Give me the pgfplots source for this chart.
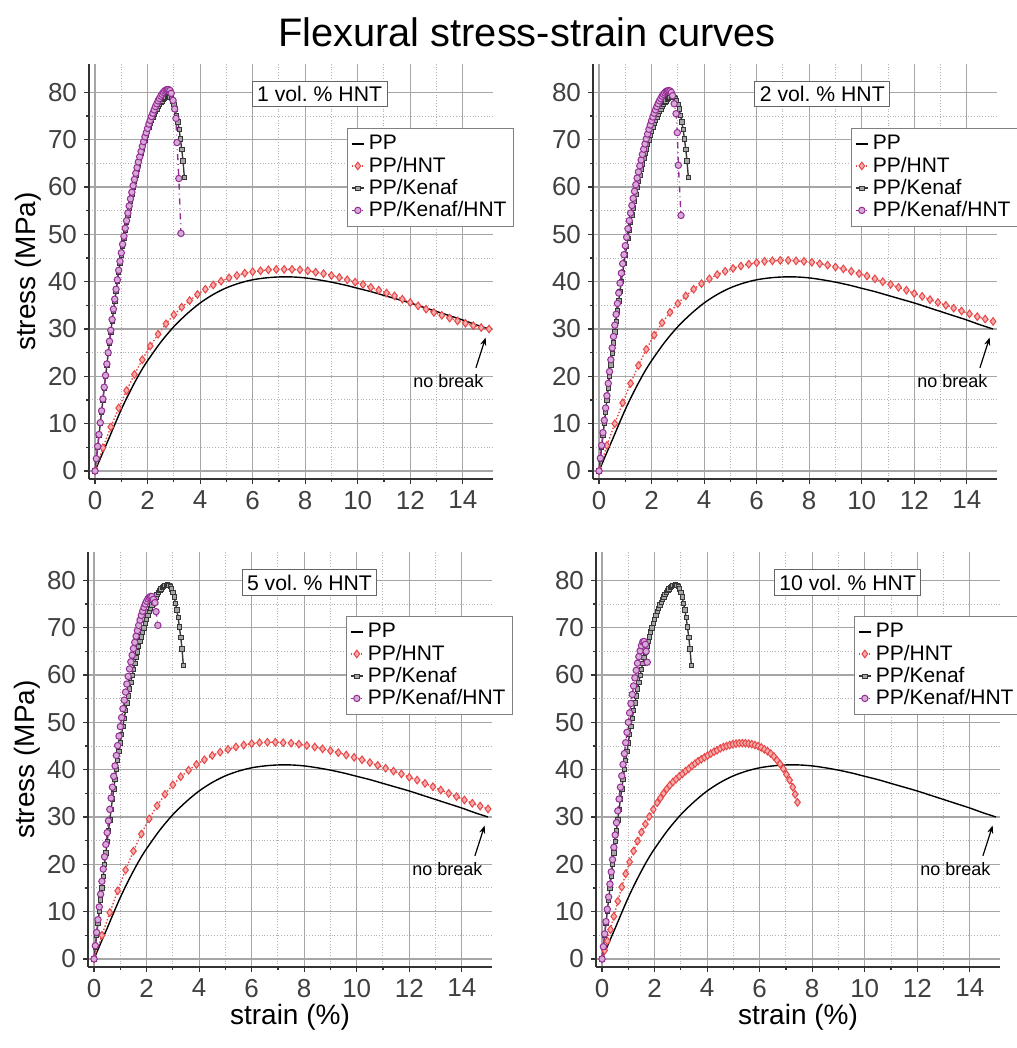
\documentclass[border=0pt]{standalone}
\usepackage{pgfplots}
\pgfplotsset{compat=1.18}
\usepackage{pgfplotstable}
\usepackage{fontspec}
\setmainfont{Liberation Sans}
\usetikzlibrary{arrows.meta}

\definecolor{hntred}{RGB}{232,70,70}
\definecolor{kgray}{RGB}{55,55,55}
\definecolor{kpurple}{RGB}{150,45,150}

% PP (same in every panel)
\pgfplotstableread{
x y
0 0
0.25 3.3
0.5 6.5
0.75 9.8
1 13.0
1.25 15.9
1.5 18.6
1.75 21.1
2 23.3
2.5 27.2
3 30.5
3.5 33.2
4 35.5
4.5 37.3
5 38.7
5.5 39.7
6 40.4
6.5 40.8
7 41.0
7.5 41.0
8 40.8
8.5 40.4
9 39.9
9.5 39.3
10 38.6
10.5 37.9
11 37.1
11.5 36.3
12 35.5
12.5 34.6
13 33.7
13.5 32.8
14 31.9
14.5 30.9
15 30.0
}\PPdata

% PP/Kenaf (same in every panel)
\pgfplotstableread{
x y
0 0
0.05 2.5
0.1 5
0.15 7.5
0.2 10
0.25 12.5
0.3 15
0.35 17.5
0.4 20
0.45 22.4
0.5 24.8
0.55 27.1
0.6 29.4
0.65 31.6
0.7 33.8
0.75 35.9
0.8 38.0
0.85 40.0
0.9 42.0
0.95 43.9
1.0 45.7
1.05 47.5
1.1 49.2
1.15 50.9
1.2 52.5
1.25 54.1
1.3 55.6
1.35 57.1
1.4 58.5
1.45 59.9
1.5 61.2
1.55 62.5
1.6 63.7
1.65 64.9
1.7 66.0
1.75 67.1
1.8 68.1
1.85 69.1
1.9 70.0
1.95 70.9
2.0 71.8
2.05 72.6
2.1 73.4
2.15 74.1
2.2 74.8
2.25 75.4
2.3 76.0
2.35 76.5
2.4 77.0
2.45 77.5
2.5 77.9
2.55 78.2
2.6 78.5
2.65 78.7
2.7 78.9
2.75 79.0
2.8 79.1
2.85 79.0
2.9 78.7
2.95 78.2
3.0 77.5
3.05 76.5
3.1 75.2
3.15 73.8
3.2 72.2
3.25 70.2
3.3 68.0
3.35 65.5
3.4 62.0
}\Kdata

% PP/HNT
\pgfplotstableread{
x y
0 0
0.3 4.9
0.6 9.3
0.9 13.3
1.2 17.0
1.5 20.4
1.8 23.5
2.1 26.4
2.4 28.9
2.7 31.1
3.0 33.0
3.3 34.6
3.6 36.0
3.9 37.3
4.2 38.4
4.5 39.3
4.8 40.1
5.1 40.8
5.4 41.3
5.7 41.8
6.0 42.1
6.3 42.3
6.6 42.5
6.9 42.6
7.2 42.6
7.5 42.6
7.8 42.5
8.1 42.3
8.4 42.0
8.7 41.7
9.0 41.3
9.3 40.9
9.6 40.4
9.9 39.9
10.2 39.4
10.5 38.8
10.8 38.2
11.1 37.6
11.4 37.0
11.7 36.3
12.0 35.6
12.3 34.9
12.6 34.2
12.9 33.5
13.2 32.9
13.5 32.3
13.8 31.7
14.1 31.2
14.4 30.7
14.7 30.3
15.0 30.0
}\Hone

\pgfplotstableread{
x y
0 0
0.3 5.4
0.6 10.0
0.9 14.4
1.2 18.5
1.5 22.3
1.8 25.7
2.1 28.7
2.4 31.3
2.7 33.5
3.0 35.4
3.3 37.0
3.6 38.4
3.9 39.6
4.2 40.6
4.5 41.5
4.8 42.2
5.1 42.8
5.4 43.3
5.7 43.7
6.0 44.0
6.3 44.3
6.6 44.4
6.9 44.5
7.2 44.5
7.5 44.4
7.8 44.3
8.1 44.1
8.4 43.8
8.7 43.5
9.0 43.1
9.3 42.7
9.6 42.2
9.9 41.7
10.2 41.2
10.5 40.6
10.8 40.0
11.1 39.4
11.4 38.8
11.7 38.2
12.0 37.5
12.3 36.9
12.6 36.2
12.9 35.6
13.2 35.0
13.5 34.4
13.8 33.8
14.1 33.2
14.4 32.6
14.7 32.1
15.0 31.6
}\Htwo

\pgfplotstableread{
x y
0 0
0.3 5.0
0.6 9.8
0.9 14.4
1.2 18.8
1.5 22.8
1.8 26.4
2.1 29.6
2.4 32.4
2.7 34.8
3.0 36.8
3.3 38.5
3.6 39.9
3.9 41.1
4.2 42.1
4.5 43.0
4.8 43.7
5.1 44.3
5.4 44.8
5.7 45.2
6.0 45.5
6.3 45.7
6.6 45.8
6.9 45.8
7.2 45.7
7.5 45.6
7.8 45.4
8.1 45.1
8.4 44.8
8.7 44.4
9.0 44.0
9.3 43.6
9.6 43.1
9.9 42.6
10.2 42.1
10.5 41.5
10.8 40.9
11.1 40.3
11.4 39.7
11.7 39.1
12.0 38.4
12.3 37.8
12.6 37.1
12.9 36.4
13.2 35.7
13.5 35.0
13.8 34.3
14.1 33.6
14.4 32.9
14.7 32.3
15.0 31.7
}\Hfive

\pgfplotstableread{
x y
0 0
0.1 1.8
0.2 3.8
0.32 6.2
0.45 9.0
0.6 12.2
0.75 15.2
0.9 18.0
1.05 20.5
1.2 22.8
1.35 24.9
1.5 26.8
1.65 28.5
1.8 30.1
1.95 31.6
2.1 33.0
2.22 34.0
2.34 35.0
2.46 35.9
2.58 36.7
2.7 37.4
2.82 38.0
2.94 38.6
3.06 39.1
3.18 39.7
3.3 40.2
3.42 40.8
3.54 41.3
3.66 41.8
3.78 42.2
3.9 42.6
4.02 43.0
4.14 43.4
4.26 43.8
4.38 44.1
4.5 44.5
4.62 44.8
4.74 45.0
4.86 45.2
4.98 45.4
5.1 45.5
5.22 45.6
5.34 45.6
5.46 45.6
5.58 45.5
5.7 45.4
5.82 45.2
5.94 45.0
6.06 44.7
6.18 44.3
6.3 43.9
6.42 43.4
6.54 42.8
6.66 42.0
6.78 41.2
6.9 40.2
7.02 39.0
7.14 37.8
7.26 36.3
7.35 34.8
7.44 33.1
}\Hten

% PP/Kenaf/HNT
\pgfplotstableread{
x y
0 0
0.05 2.6
0.1 5.2
0.15 7.7
0.2 10.2
0.25 12.7
0.3 15.2
0.35 17.7
0.4 20.2
0.45 22.6
0.5 25.0
0.55 27.4
0.6 29.7
0.65 32.0
0.7 34.2
0.75 36.3
0.8 38.4
0.85 40.4
0.9 42.4
0.95 44.3
1.0 46.1
1.05 47.9
1.1 49.6
1.15 51.3
1.2 52.9
1.25 54.5
1.3 56.0
1.35 57.5
1.4 58.9
1.45 60.3
1.5 61.6
1.55 62.9
1.6 64.1
1.65 65.3
1.7 66.4
1.75 67.5
1.8 68.6
1.85 69.6
1.9 70.6
1.95 71.5
2.0 72.4
2.05 73.3
2.1 74.1
2.15 74.9
2.2 75.6
2.25 76.3
2.3 77.0
2.35 77.6
2.4 78.2
2.45 78.7
2.5 79.2
2.55 79.6
2.6 80.0
2.65 80.3
2.7 80.5
2.75 80.6
2.8 80.6
2.85 80.4
2.9 79.8
2.97 78.3
3.03 76.5
3.08 74.5
3.12 69.4
3.19 61.8
3.27 50.2
}\KHone

\pgfplotstableread{
x y
0 0
0.05 2.7
0.1 5.4
0.15 8.1
0.2 10.7
0.25 13.3
0.3 15.9
0.35 18.5
0.4 21.0
0.45 23.5
0.5 26.0
0.55 28.4
0.6 30.8
0.65 33.1
0.7 35.4
0.75 37.6
0.8 39.7
0.85 41.8
0.9 43.8
0.95 45.7
1.0 47.6
1.05 49.4
1.1 51.2
1.15 52.9
1.2 54.5
1.25 56.1
1.3 57.6
1.35 59.1
1.4 60.5
1.45 61.9
1.5 63.2
1.55 64.5
1.6 65.7
1.65 66.9
1.7 68.0
1.75 69.1
1.8 70.2
1.85 71.2
1.9 72.2
1.95 73.1
2.0 74.0
2.05 74.8
2.1 75.6
2.15 76.3
2.2 77.0
2.25 77.6
2.3 78.2
2.35 78.7
2.4 79.2
2.45 79.6
2.5 79.9
2.55 80.2
2.6 80.3
2.65 80.4
2.7 80.3
2.75 80.0
2.8 79.3
2.86 77.6
2.93 75.5
2.98 71.5
3.02 64.6
3.12 54.0
}\KHtwo

\pgfplotstableread{
x y
0 0
0.05 2.8
0.1 5.6
0.15 8.3
0.2 11.0
0.25 13.7
0.3 16.4
0.35 19.0
0.4 21.6
0.45 24.2
0.5 26.7
0.55 29.2
0.6 31.6
0.65 34.0
0.7 36.3
0.75 38.6
0.8 40.8
0.85 43.0
0.9 45.1
0.95 47.1
1.0 49.1
1.05 51.0
1.1 52.9
1.15 54.7
1.2 56.4
1.25 58.1
1.3 59.7
1.35 61.3
1.4 62.8
1.45 64.2
1.5 65.6
1.55 66.9
1.6 68.2
1.65 69.4
1.7 70.5
1.75 71.6
1.8 72.6
1.85 73.5
1.9 74.3
1.95 75.0
2.0 75.6
2.05 76.1
2.1 76.4
2.15 76.6
2.2 76.6
2.26 76.0
2.32 75.3
2.36 73.4
2.43 70.5
}\KHfive

\pgfplotstableread{
x y
0 0
0.05 2.6
0.1 5.3
0.15 7.9
0.2 10.5
0.25 13.1
0.3 15.8
0.35 18.4
0.4 21.0
0.45 23.6
0.5 26.2
0.55 28.8
0.6 31.3
0.65 33.8
0.7 36.3
0.75 38.7
0.8 41.1
0.85 43.4
0.9 45.7
0.95 47.9
1.0 50.0
1.05 52.0
1.1 54.0
1.15 55.9
1.2 57.7
1.25 59.4
1.3 61.0
1.35 62.5
1.4 63.9
1.45 65.1
1.5 66.2
1.55 67.0
1.6 67.1
1.65 66.5
1.68 65.0
1.72 62.7
}\KHten

\pgfplotsset{
  panel/.style={
    scale only axis, width=202pt, height=207.5pt, anchor=north west,
    xmin=-0.23, xmax=15.15, ymin=-1.7, ymax=86,
    xtick={0,2,...,14}, ytick={0,10,...,80},
    minor x tick num=1, minor y tick num=1,
    grid=both,
    major grid style={draw=black!35, line width=0.6pt},
    minor grid style={draw=black!30, densely dotted, line width=0.5pt},
    axis x line*=bottom, axis y line*=left,
    axis line style={draw=black!80, line width=0.8pt},
    tick align=outside, major tick length=2.5pt, minor tick length=1.5pt,
    tick style={draw=black!80, line width=0.6pt},
    every tick label/.append style={font=\fontsize{13}{15}\selectfont, text=black!75},
    /pgf/number format/assume math mode=true,
    legend cell align=left,
    legend style={at={(1.052,0.846)}, anchor=north east, draw=black!50,
      line width=0.5pt, font=\fontsize{10.5}{12}\selectfont, inner sep=1.5pt,
      row sep=-2pt},
    legend image code/.code={\draw[mark repeat=2,mark phase=2,#1]
      plot coordinates {(0cm,0cm)(0.11cm,0cm)(0.22cm,0cm)};},
  },
  leftcol/.style={ylabel={stress (MPa)},
    ylabel style={at={(axis description cs:-0.151,0.5)}, anchor=center,
      font=\fontsize{14}{16}\selectfont}},
  botrow/.style={xlabel={strain (\%)},
    xlabel style={at={(axis description cs:0.5,-0.12)}, anchor=center,
      font=\fontsize{14}{16}\selectfont}},
  pp/.style={black, line width=0.7pt, no marks, smooth},
  hnt/.style={hntred, densely dotted, line width=0.7pt, mark=diamond*,
    mark size=1.9pt, mark options={solid, draw=hntred, fill=hntred!45!white, line width=0.5pt}},
  kenaf/.style={kgray, line width=0.7pt, mark=square*, mark size=1.1pt,
    mark options={solid, draw=kgray, fill=black!35, line width=0.4pt}},
  kh/.style={kpurple, dash dot, line width=0.7pt, mark=*, mark size=1.6pt,
    mark options={solid, draw=kpurple, fill=kpurple!40!white, line width=0.5pt}},
}

\newcommand{\nobreaknote}{%
  \draw[-{Stealth[length=4pt,width=3pt]}, line width=0.6pt] (axis cs:14.5,21.8) -- (axis cs:14.87,28.2);
  \node[font=\fontsize{9}{11}\selectfont] at (axis cs:13.45,19) {no break};}
\newcommand{\volbox}[3]{%
  \node[draw=black!60, fill=white, line width=0.5pt, inner sep=2.5pt,
    font=\fontsize{10.6}{12}\selectfont] at (axis cs:#1,#2) {#3};}

\begin{document}
\begin{tikzpicture}
\useasboundingbox (0,0) rectangle (508pt,-524pt);

\node[font=\fontsize{19.9}{24}\selectfont, anchor=base] at (263.5pt,-23.5pt) {Flexural stress-strain curves};

\begin{axis}[panel, leftcol, at={(44.5pt,-32pt)}]
\addplot[pp] table {\PPdata};
\addplot[hnt] table {\Hone};
\addplot[kenaf] table {\Kdata};
\addplot[kh] table {\KHone};
\legend{PP,PP/HNT,PP/Kenaf,PP/Kenaf/HNT}
\volbox{8.55}{79.7}{1 vol.\ \% HNT}
\nobreaknote
\end{axis}

\begin{axis}[panel, at={(296.5pt,-32pt)}]
\addplot[pp] table {\PPdata};
\addplot[hnt] table {\Htwo};
\addplot[kenaf] table {\Kdata};
\addplot[kh] table {\KHtwo};
\legend{PP,PP/HNT,PP/Kenaf,PP/Kenaf/HNT}
\volbox{8.5}{79.7}{2 vol.\ \% HNT}
\nobreaknote
\end{axis}

\begin{axis}[panel, leftcol, botrow, at={(44pt,-276pt)}]
\addplot[pp] table {\PPdata};
\addplot[hnt] table {\Hfive};
\addplot[kenaf] table {\Kdata};
\addplot[kh] table {\KHfive};
\legend{PP,PP/HNT,PP/Kenaf,PP/Kenaf/HNT}
\volbox{8.2}{79.5}{5 vol.\ \% HNT}
\nobreaknote
\end{axis}

\begin{axis}[panel, botrow, at={(298pt,-276pt)}]
\addplot[pp] table {\PPdata};
\addplot[hnt] table {\Hten};
\addplot[kenaf] table {\Kdata};
\addplot[kh] table {\KHten};
\legend{PP,PP/HNT,PP/Kenaf,PP/Kenaf/HNT}
\volbox{9.35}{79.5}{10 vol.\ \% HNT}
\nobreaknote
\end{axis}
\end{tikzpicture}
\end{document}
